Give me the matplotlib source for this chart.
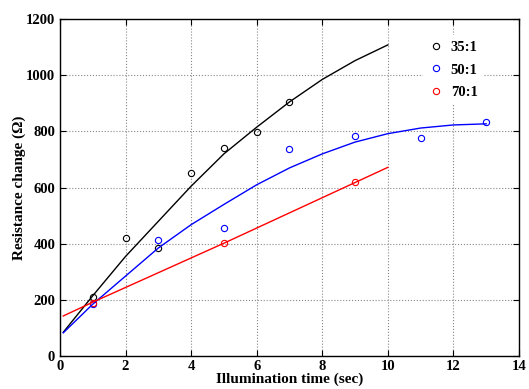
import matplotlib
matplotlib.use("Agg")
import matplotlib.pyplot as plt

# measured points
x_35 = [1, 2, 3, 4, 5, 6, 7]
y_35 = [210, 422, 385, 652, 742, 797, 905]
x_50 = [1, 3, 5, 7, 9, 11, 13]
y_50 = [185, 412, 455, 738, 785, 775, 832]
x_70 = [1, 5, 9]
y_70 = [190, 402, 620]

# fitted curves
fx_35 = [0.1, 1, 2, 3, 4, 5, 6, 7, 8, 9, 10]
fy_35 = [85, 215, 355, 480, 605, 720, 815, 905, 985, 1052, 1108]
fx_50 = [0.1, 1, 2, 3, 4, 5, 6, 7, 8, 9, 10, 11, 12, 13]
fy_50 = [83, 185, 285, 385, 468, 540, 610, 670, 720, 762, 792, 812, 823, 827]
fx_70 = [0.1, 1, 5, 9, 10]
fy_70 = [143, 192, 402, 618, 672]

plt.rcParams["font.family"] = ["Liberation Serif", "DejaVu Serif"]
plt.rcParams["font.weight"] = "bold"

fig = plt.figure(figsize=(5.29, 3.89), dpi=100)
ax = fig.add_axes([0.1134, 0.0845, 0.8676, 0.8665])

ax.plot(x_35, y_35, "o", mfc="none", mec="black", ms=4.5, mew=0.8, label="35:1")
ax.plot(x_50, y_50, "o", mfc="none", mec="blue", ms=4.5, mew=0.8, label="50:1")
ax.plot(x_70, y_70, "o", mfc="none", mec="red", ms=4.5, mew=0.8, label="70:1")

ax.plot(fx_35, fy_35, color="black", lw=1)
ax.plot(fx_50, fy_50, color="blue", lw=1)
ax.plot(fx_70, fy_70, color="red", lw=1)

ax.set_xlim(0, 14)
ax.set_ylim(0, 1200)
ax.set_xticks(range(0, 15, 2))
ax.set_yticks(range(0, 1201, 200))
ax.grid(True, linestyle=":", color="#888888", lw=0.8)
ax.tick_params(direction="in", top=True, right=True, labelsize=10.5, length=4, width=0.8, pad=3.5)
ax.tick_params(axis="x", pad=2.5)
for s in ax.spines.values():
    s.set_linewidth(1)

ax.set_xlabel("Illumination time (sec)", fontsize=11, fontweight="bold", labelpad=0)
ax.set_ylabel("Resistance change (Ω)", fontsize=11, fontweight="bold", labelpad=0)

leg = ax.legend(loc="upper left", bbox_to_anchor=(0.775, 0.975), frameon=True, fontsize=10.5,
                handletextpad=0.5, handlelength=1.0, labelspacing=0.65, borderpad=0.4)
leg.get_frame().set_edgecolor("none")
leg.get_frame().set_facecolor("white")
leg.get_frame().set_alpha(1)

fig.savefig("out.png", dpi=100)
